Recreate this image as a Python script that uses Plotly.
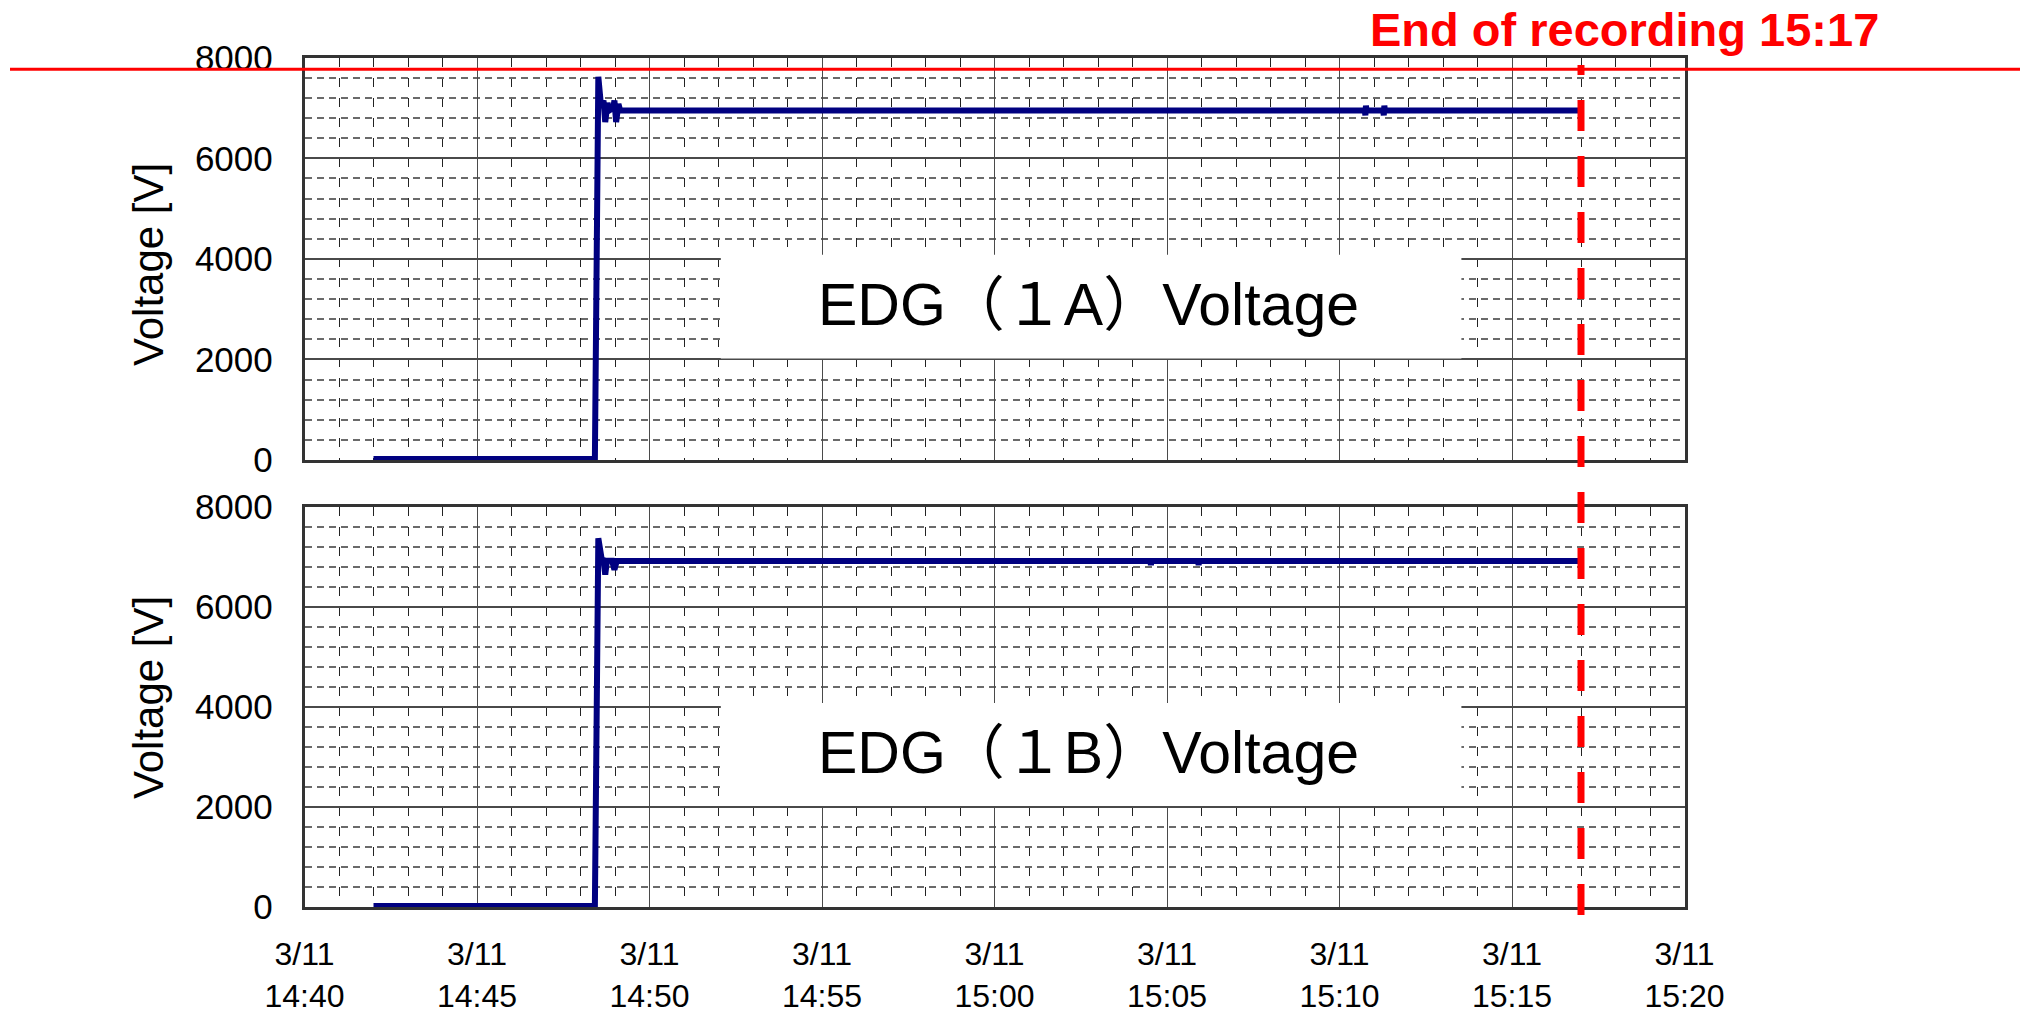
import plotly.graph_objects as go

# ---- recorded generator voltages (3/11) ----
edg_1a_times = [
    "2011-03-11 14:42:00", "2011-03-11 14:48:25", "2011-03-11 14:48:31",
    "2011-03-11 14:48:36", "2011-03-11 14:48:40", "2011-03-11 14:48:43",
    "2011-03-11 14:48:47", "2011-03-11 14:48:50", "2011-03-11 14:48:57",
    "2011-03-11 14:48:59", "2011-03-11 14:49:02", "2011-03-11 14:49:06",
    "2011-03-11 14:49:09", "2011-03-11 15:10:44", "2011-03-11 15:10:45",
    "2011-03-11 15:10:46", "2011-03-11 15:10:47", "2011-03-11 15:11:16",
    "2011-03-11 15:11:17", "2011-03-11 15:11:18", "2011-03-11 15:11:19",
    "2011-03-11 15:17:00",
]
edg_1a_volts = [
    20, 20, 7620,
    7000, 7150, 6720,
    7100, 6950, 7000,
    7150, 6720, 7080,
    6950, 6950, 6855,
    7045, 6950, 6950,
    6855, 7045, 6950,
    6950,
]

edg_1b_times = [
    "2011-03-11 14:42:00", "2011-03-11 14:48:25", "2011-03-11 14:48:31",
    "2011-03-11 14:48:34", "2011-03-11 14:48:37", "2011-03-11 14:48:40",
    "2011-03-11 14:48:43", "2011-03-11 14:48:46", "2011-03-11 14:48:55",
    "2011-03-11 14:48:59", "2011-03-11 14:49:03", "2011-03-11 15:04:31",
    "2011-03-11 15:04:32", "2011-03-11 15:04:33", "2011-03-11 15:05:54",
    "2011-03-11 15:05:55", "2011-03-11 15:05:56", "2011-03-11 15:17:00",
]
edg_1b_volts = [
    20, 20, 7380,
    7050, 6950, 6940,
    6650, 6930, 6930,
    6750, 6925, 6925,
    6840, 6925, 6925,
    6840, 6925, 6925,
]

panel_labels = ["EDG（１A）Voltage", "EDG（１B）Voltage"]
y_title = "Voltage [V]"
y_ticks = [0, 2000, 4000, 6000, 8000]
x_ticks = [
    "2011-03-11 14:40", "2011-03-11 14:45", "2011-03-11 14:50",
    "2011-03-11 14:55", "2011-03-11 15:00", "2011-03-11 15:05",
    "2011-03-11 15:10", "2011-03-11 15:15", "2011-03-11 15:20",
]
x_tick_text = [f"3/11<br>{t[-5:]}" for t in x_ticks]
x_range = ["2011-03-11 14:40", "2011-03-11 15:20"]
end_of_recording = "2011-03-11 15:17:00"
end_label = "End of recording 15:17"
red_level = 7770
label_box_x = ["2011-03-11 14:52:04", "2011-03-11 15:13:32"]
label_box_y = [2020, 4080]
label_pos = ("2011-03-11 15:02:44", 3080)

# ---- styling ----
FONT = "Liberation Sans, Arial, Noto Sans CJK JP, sans-serif"
NAVY = "#000080"
X_DOM = [304.5 / 2020, 1684.5 / 2020]
TOP_DOM = [1 - 460 / 1014, 1 - 57.7 / 1014]
BOT_DOM = [1 - 907 / 1014, 1 - 507.2 / 1014]

fig = go.Figure()
fig.add_trace(go.Scatter(x=edg_1a_times, y=edg_1a_volts, mode="lines",
                         line=dict(color=NAVY, width=6),
                         xaxis="x2", yaxis="y2", hoverinfo="skip"))
fig.add_trace(go.Scatter(x=edg_1b_times, y=edg_1b_volts, mode="lines",
                         line=dict(color=NAVY, width=6),
                         xaxis="x", yaxis="y", hoverinfo="skip"))

xcommon = dict(
    type="date", range=x_range, domain=X_DOM,
    tickvals=x_ticks, ticktext=x_tick_text,
    showgrid=True, gridcolor="#4a4a4a", gridwidth=1.2,
    showline=True, linecolor="#333333", linewidth=2.5, mirror=True,
    ticks="", zeroline=False,
    tickfont=dict(family=FONT, size=32, color="black"),
    ticklabelstandoff=17,
    minor=dict(tick0="2011-03-11 14:40", dtick=60000, showgrid=True,
               gridcolor="#222222", gridwidth=1, griddash="9px,11px"),
)
ycommon = dict(
    range=[0, 8000], tickvals=y_ticks,
    showgrid=True, gridcolor="#4a4a4a", gridwidth=1.5,
    showline=True, linecolor="#333333", linewidth=2.5, mirror=True,
    ticks="", zeroline=False,
    tickfont=dict(family=FONT, size=35, color="black"),
    ticklabelstandoff=22,
    minor=dict(dtick=400, showgrid=True, gridcolor="#6a6a6a",
               gridwidth=1.5, griddash="7px,5px"),
)

fig.update_layout(
    width=2020, height=1014,
    margin=dict(l=0, r=0, t=0, b=0, autoexpand=False),
    paper_bgcolor="white", plot_bgcolor="white",
    showlegend=False,
    xaxis=dict(xcommon, anchor="y"),
    xaxis2=dict(xcommon, anchor="y2", showticklabels=False),
    yaxis=dict(ycommon, domain=BOT_DOM, anchor="x"),
    yaxis2=dict(ycommon, domain=TOP_DOM, anchor="x2"),
)

shapes = []
annotations = []
for xr, yr, label in (("x2", "y2", panel_labels[0]), ("x", "y", panel_labels[1])):
    # white panel behind each series label
    shapes.append(dict(type="rect", xref=xr, yref=yr,
                       x0=label_box_x[0], x1=label_box_x[1],
                       y0=label_box_y[0], y1=label_box_y[1],
                       fillcolor="white", line=dict(width=0), layer="above"))
    annotations.append(dict(xref=xr, yref=yr, x=label_pos[0], y=label_pos[1],
                            text=label, showarrow=False,
                            xanchor="center", yanchor="middle",
                            font=dict(family=FONT, size=59, color="black")))

# red reference level across the top panel
shapes.append(dict(type="line", xref="paper", yref="y2",
                   x0=10 / 2020, x1=1, y0=red_level, y1=red_level,
                   line=dict(color="#ff0000", width=3), layer="above"))
# end-of-recording marker through both panels
shapes.append(dict(type="line", xref="x", yref="paper",
                   x0=end_of_recording, x1=end_of_recording,
                   y0=1 - 915 / 1014, y1=1 - 65 / 1014,
                   line=dict(color="#ff0000", width=7, dash="31px,25px"),
                   layer="above"))

annotations.append(dict(xref="paper", yref="paper", x=1624 / 2020, y=1 - 29 / 1014,
                        text=f"<b>{end_label}</b>", showarrow=False,
                        xanchor="center", yanchor="middle",
                        font=dict(family=FONT, size=47, color="#ff0000")))

# y-axis titles
for yc in (265, 698):
    annotations.append(dict(xref="paper", yref="paper", x=148 / 2020, y=1 - yc / 1014,
                            text=y_title, textangle=-90, showarrow=False,
                            xanchor="center", yanchor="middle",
                            font=dict(family=FONT, size=42, color="black")))

fig.update_layout(shapes=shapes, annotations=annotations)
fig.write_html("out.html")
